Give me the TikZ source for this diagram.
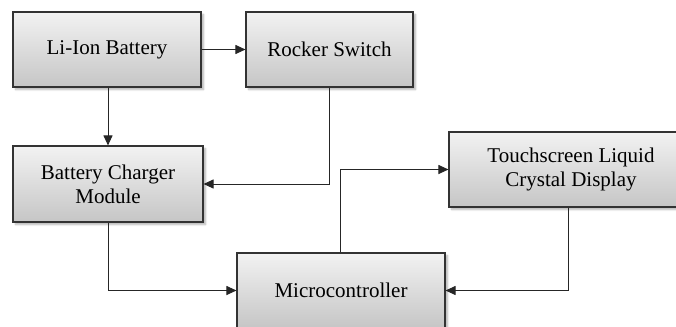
\documentclass[tikz,border=0pt]{standalone}
\usepackage{fontspec}
\setmainfont{Liberation Serif}
\usetikzlibrary{arrows.meta,shadows.blur}
\tikzset{
  blk/.style={draw=black!80, line width=1.1pt, top color=gray!10, bottom color=gray!45,
    blur shadow={shadow xshift=2.5pt, shadow yshift=-2.5pt, shadow blur steps=6, shadow opacity=30},
    minimum height=75pt, align=center, inner sep=0pt,
    font=\fontsize{21}{24}\selectfont, text=black},
  conn/.style={draw=black!85, line width=1pt, -{Triangle[length=10pt,width=9pt]}}
}
\begin{document}
\begin{tikzpicture}[x=1pt,y=-1pt]
\useasboundingbox (0,0) rectangle (676,326);
\clip (0,0) rectangle (676,326);
\node[blk, minimum width=188pt] (li) at (107,49.5) {Li-Ion Battery};
\node[blk, minimum width=167pt] (rs) at (329.5,49.5) {Rocker Switch};
\node[blk, minimum width=190pt, minimum height=76pt] (bc) at (108,184) {Battery Charger\\Module};
\node[blk, minimum width=208pt] (mc) at (341,290.5) {Microcontroller};
\node[blk, minimum width=244pt] (lcd) at (571,169.5) {Touchscreen Liquid\\Crystal Display};
\draw[conn] (li.east) -- (rs.west);
\draw[conn] ([xshift=1pt]li.south) -- ([xshift=1pt]li.south |- bc.north);
\draw[conn] (rs.south) |- (bc.east);
\draw[conn] (bc.south) |- (mc.west);
\draw[conn] ([xshift=-1pt]mc.north) |- (lcd.west);
\draw[conn] ([xshift=-3pt]lcd.south) |- (mc.east);
\end{tikzpicture}
\end{document}
